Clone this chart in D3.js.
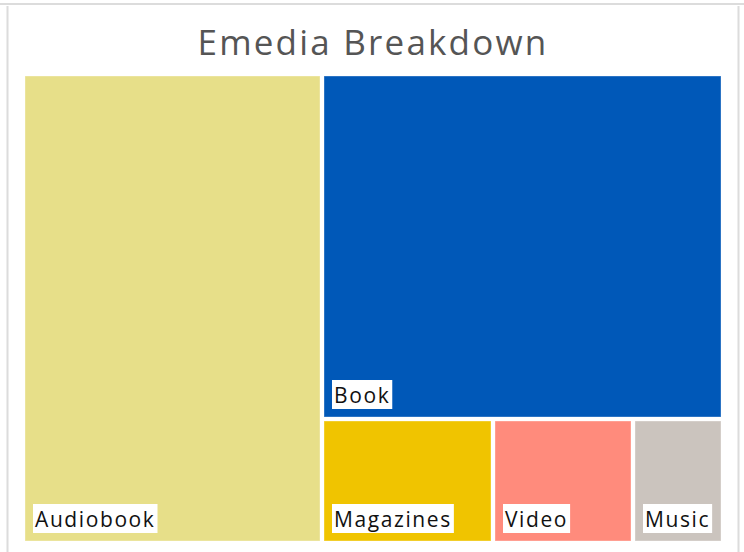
<!DOCTYPE html>
<html>
<head>
<meta charset="utf-8">
<script src="https://cdn.jsdelivr.net/npm/d3@7"></script>
<style>
  body { margin: 0; background: #fff; }
  svg { display: block; }
</style>
</head>
<body>
<script>
// emedia share by format
var categories = ['Audiobook', 'Book', 'Magazines', 'Video', 'Music'];
var values = [42.7, 42.1, 6.5, 5.3, 3.4];
var colors = ['#e7df89', '#0058b8', '#f0c400', '#ff8b7c', '#cbc4be'];

var width = 744, height = 552;
var svg = d3.select('body').append('svg')
    .attr('width', width)
    .attr('height', height);

// card frame
svg.append('line')
    .attr('x1', 0).attr('x2', width)
    .attr('y1', 4).attr('y2', 4)
    .style('stroke', '#dcdcdc').style('stroke-width', 2);
svg.append('line')
    .attr('x1', 7.5).attr('x2', 7.5)
    .attr('y1', 6).attr('y2', height)
    .style('stroke', '#dcdcdc').style('stroke-width', 2);
svg.append('line')
    .attr('x1', 738.5).attr('x2', 738.5)
    .attr('y1', 6).attr('y2', height)
    .style('stroke', '#dcdcdc').style('stroke-width', 2);

svg.append('text')
    .attr('x', 373)
    .attr('y', 55)
    .attr('text-anchor', 'middle')
    .style('font-family', '"Open Sans", sans-serif')
    .style('font-size', '35px')
    .style('letter-spacing', '2.2px')
    .style('fill', '#555')
    .text('Emedia Breakdown');

var data = {
  name: 'root',
  children: categories.map(function(c, i) { return { name: c, value: values[i], color: colors[i] }; })
};

var root = d3.hierarchy(data)
    .sum(function(d) { return d.value || 0; })
    .sort(function(a, b) { return b.value - a.value; });

d3.treemap()
    .tile(d3.treemapBinary)
    .size([696, 465])
    .paddingInner(4)
    .round(true)(root);

var g = svg.append('g').attr('transform', 'translate(25,76)');

var cell = g.selectAll('g.cell')
    .data(root.leaves())
  .enter().append('g')
    .attr('class', 'cell');

cell.append('rect')
    .attr('x', function(d) { return d.x0; })
    .attr('y', function(d) { return d.y0; })
    .attr('width', function(d) { return d.x1 - d.x0; })
    .attr('height', function(d) { return d.y1 - d.y0; })
    .style('fill', function(d) { return d.data.color; })
    .style('stroke', 'rgba(255,255,255,0.35)')
    .style('stroke-width', 1);

// label boxes at bottom left
cell.each(function(d) {
  var c = d3.select(this);
  var t = c.append('text')
      .attr('x', d.x0 + 10)
      .attr('y', d.y1 - 14)
      .style('font-family', '"Open Sans", sans-serif')
      .style('font-size', '21px')
      .style('letter-spacing', '1.6px')
      .style('fill', '#111')
      .text(d.data.name);
  var bb = t.node().getBBox();
  c.insert('rect', 'text')
      .attr('x', d.x0 + 8)
      .attr('y', d.y1 - 8 - 29)
      .attr('width', bb.width + 4)
      .attr('height', 29)
      .style('fill', '#fff');
});
</script>
</body>
</html>
